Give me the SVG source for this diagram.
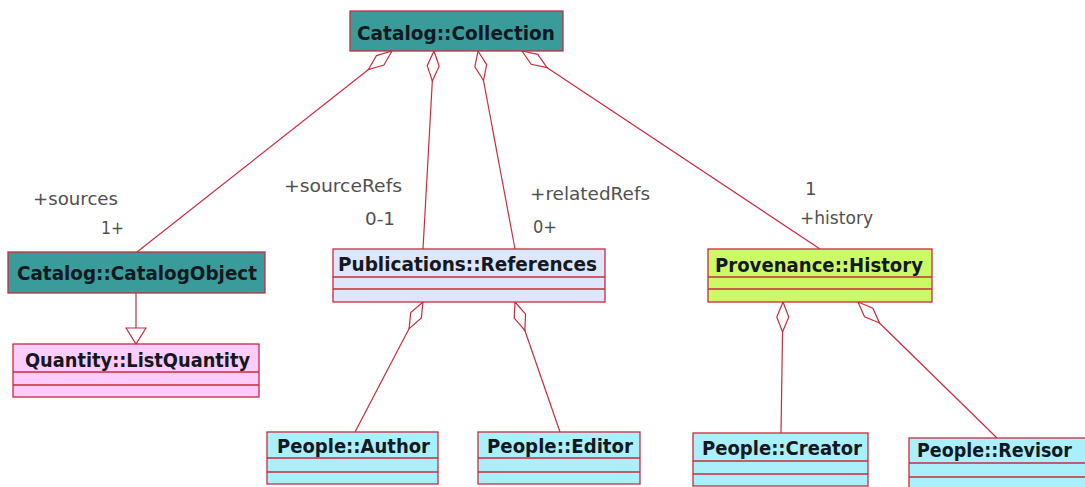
<svg xmlns="http://www.w3.org/2000/svg" width="1085" height="487" viewBox="0 0 1085 487">
<style>
.box{stroke:#cc2a3c;stroke-width:1.3}
.sep{stroke:#cc2a3c;stroke-width:1.3}
.teal{fill:#3a9c9a}
.lav{fill:#dde6fa}
.pink{fill:#fcccfc}
.lime{fill:#ccfa66}
.cyan{fill:#aaf0fc}
.name{font-family:"DejaVu Sans",sans-serif;font-weight:bold;font-size:20px;fill:#141820}
.lbl{font-family:"DejaVu Sans",sans-serif;font-size:18px;fill:#505050}
.conn{stroke:#cc2a3c;stroke-width:1.2;fill:none}
</style>
<defs>
<marker id="dia" viewBox="-1 -7 33 14" refX="0" refY="0" markerWidth="33" markerHeight="14" orient="auto" markerUnits="userSpaceOnUse">
<path d="M0,0 L15,-6 L30,0 L15,6 Z" fill="#fff" stroke="#cc2a3c" stroke-width="1.2"/>
</marker>
<marker id="tri" viewBox="-1 -11 19 22" refX="16" refY="0" markerWidth="19" markerHeight="22" orient="auto" markerUnits="userSpaceOnUse">
<path d="M0,-10 L16,0 L0,10 Z" fill="#fff" stroke="#cc2a3c" stroke-width="1.2"/>
</marker>
</defs>
<rect width="1085" height="487" fill="#fff"/>
<g id="connectors">
<line class="conn" x1="392" y1="51" x2="137" y2="252" marker-start="url(#dia)"/>
<line class="conn" x1="434" y1="51" x2="423" y2="249" marker-start="url(#dia)"/>
<line class="conn" x1="478" y1="51" x2="515" y2="249" marker-start="url(#dia)"/>
<line class="conn" x1="522" y1="51" x2="820" y2="249" marker-start="url(#dia)"/>
<line class="conn" x1="423" y1="302" x2="355" y2="432" marker-start="url(#dia)"/>
<line class="conn" x1="515" y1="302" x2="560" y2="432" marker-start="url(#dia)"/>
<line class="conn" x1="783" y1="302" x2="781" y2="433" marker-start="url(#dia)"/>
<line class="conn" x1="858" y1="302" x2="997" y2="438" marker-start="url(#dia)"/>
<line class="conn" x1="136" y1="293" x2="136" y2="344" marker-end="url(#tri)"/>
<text class="lbl" x="33" y="205" textLength="85" lengthAdjust="spacingAndGlyphs">+sources</text>
<text class="lbl" x="101" y="234" textLength="23" lengthAdjust="spacingAndGlyphs">1+</text>
<text class="lbl" x="284" y="192" textLength="118" lengthAdjust="spacingAndGlyphs">+sourceRefs</text>
<text class="lbl" x="365" y="225" textLength="30" lengthAdjust="spacingAndGlyphs">0-1</text>
<text class="lbl" x="530" y="200" textLength="120" lengthAdjust="spacingAndGlyphs">+relatedRefs</text>
<text class="lbl" x="533" y="233" textLength="24" lengthAdjust="spacingAndGlyphs">0+</text>
<text class="lbl" x="805" y="195">1</text>
<text class="lbl" x="800" y="224" textLength="73" lengthAdjust="spacingAndGlyphs">+history</text>
</g>
<g id="collection">
<rect class="box teal" x="350" y="11" width="213" height="40"/>
<text class="name" x="357" y="40" textLength="198" lengthAdjust="spacingAndGlyphs">Catalog::Collection</text>
</g>
<g id="catalogobject">
<rect class="box teal" x="8" y="252" width="257" height="41"/>
<text class="name" x="17" y="280" textLength="240" lengthAdjust="spacingAndGlyphs">Catalog::CatalogObject</text>
</g>
<g id="listquantity">
<rect class="box pink" x="13" y="344" width="246" height="53"/>
<line class="sep" x1="13" y1="372" x2="259" y2="372"/>
<line class="sep" x1="13" y1="385" x2="259" y2="385"/>
<text class="name" x="25" y="367" textLength="225" lengthAdjust="spacingAndGlyphs">Quantity::ListQuantity</text>
</g>
<g id="references">
<rect class="box lav" x="333" y="249" width="272" height="53"/>
<line class="sep" x1="333" y1="277" x2="605" y2="277"/>
<line class="sep" x1="333" y1="289" x2="605" y2="289"/>
<text class="name" x="338" y="271" textLength="259" lengthAdjust="spacingAndGlyphs">Publications::References</text>
</g>
<g id="history">
<rect class="box lime" x="708" y="249" width="224" height="53"/>
<line class="sep" x1="708" y1="277" x2="932" y2="277"/>
<line class="sep" x1="708" y1="289" x2="932" y2="289"/>
<text class="name" x="715" y="272" textLength="208" lengthAdjust="spacingAndGlyphs">Provenance::History</text>
</g>
<g id="author">
<rect class="box cyan" x="267" y="432" width="171" height="52"/>
<line class="sep" x1="267" y1="458" x2="438" y2="458"/>
<line class="sep" x1="267" y1="472" x2="438" y2="472"/>
<text class="name" x="277" y="453" textLength="153" lengthAdjust="spacingAndGlyphs">People::Author</text>
</g>
<g id="editor">
<rect class="box cyan" x="478" y="432" width="162" height="52"/>
<line class="sep" x1="478" y1="458" x2="640" y2="458"/>
<line class="sep" x1="478" y1="472" x2="640" y2="472"/>
<text class="name" x="487" y="453" textLength="146" lengthAdjust="spacingAndGlyphs">People::Editor</text>
</g>
<g id="creator">
<rect class="box cyan" x="693" y="433" width="175" height="53"/>
<line class="sep" x1="693" y1="461" x2="868" y2="461"/>
<line class="sep" x1="693" y1="474" x2="868" y2="474"/>
<text class="name" x="702" y="455" textLength="160" lengthAdjust="spacingAndGlyphs">People::Creator</text>
</g>
<g id="revisor">
<rect class="box cyan" x="909" y="438" width="177" height="52"/>
<line class="sep" x1="909" y1="463" x2="1086" y2="463"/>
<line class="sep" x1="909" y1="477" x2="1086" y2="477"/>
<text class="name" x="917" y="457" textLength="155" lengthAdjust="spacingAndGlyphs">People::Revisor</text>
</g>
</svg>
